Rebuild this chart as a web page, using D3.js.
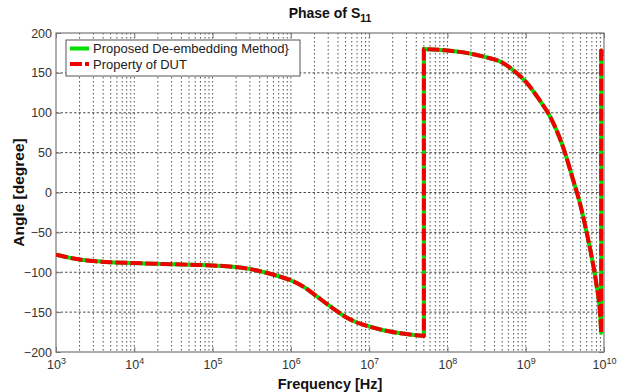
<!DOCTYPE html>
<html><head><meta charset="utf-8">
<script src="https://cdn.jsdelivr.net/npm/d3@7"></script>
<style>body{margin:0;background:#fff;}svg{display:block;font-family:"Liberation Sans",Arial,sans-serif;}</style>
</head><body><svg id="c" width="644" height="392"></svg>
<script>
// Data
const freqHz = [1e3,2e3,3e3,5e3,1e4,2e4,5e4,1e5,2e5,3e5,5e5,7e5,1e6,1.5e6,2e6,3e6,5e6,7e6,1e7,2e7,3e7,5e7,
                5e7,1e8,2e8,3e8,5e8,7e8,1e9,1.5e9,2e9,3e9,4e9,5e9,6e9,7e9,8e9,9e9,9.2e9,
                9.2e9,1e10];
const proposedPhase = [-78,-84,-86,-87.5,-88.5,-89.5,-90.5,-91.5,-93.5,-96,-101,-105,-110,-119,-128,-141,-156,-163,-168,-175,-177.5,-180,
                180,178,174,170,163,153,139,116,97,57,17,-16,-50,-82,-115,-158,-176,
                178,172];
const dutPhase = [-78,-84,-86,-87.5,-88.5,-89.5,-90.5,-91.5,-93.5,-96,-101,-105,-110,-119,-128,-141,-156,-163,-168,-175,-177.5,-180,
                180,178,174,170,163,153,139,116,97,57,17,-16,-50,-82,-115,-158,-176,
                178,172];
const yTicks = [-200,-150,-100,-50,0,50,100,150,200];
const xDecades = [3,4,5,6,7,8,9,10];
const legendLabels = ["Proposed De-embedding Method}","Property of DUT"];

const svg = d3.select("#c");
const L=56,R=604,T=33,B=352;
const x = d3.scaleLog().domain([1e3,1e10]).range([L,R]);
const y = d3.scaleLinear().domain([-200,200]).range([B,T]);

// grid
const g = svg.append("g");
const minor=[];
for(let e=3;e<10;e++){for(let k=1;k<10;k++){const v=k*Math.pow(10,e); if(v>1e3) minor.push(v);}}
g.selectAll("line.vx").data(minor).join("line")
 .attr("x1",d=>x(d)).attr("x2",d=>x(d)).attr("y1",T).attr("y2",B)
 .attr("stroke","#222").attr("stroke-width",0.8).attr("stroke-dasharray","1.5,2.5");
g.selectAll("line.hy").data(yTicks.slice(1,-1)).join("line")
 .attr("x1",L).attr("x2",R).attr("y1",d=>y(d)).attr("y2",d=>y(d))
 .attr("stroke","#222").attr("stroke-width",0.8).attr("stroke-dasharray","2.5,2");

// axes
const axL = d3.axisLeft(y).tickValues(yTicks).tickSize(-5).tickPadding(4).tickFormat(d3.format("d"));
const axR = d3.axisRight(y).tickValues(yTicks).tickSize(-5).tickFormat("");
const axB = d3.axisBottom(x).tickValues(xDecades.map(e=>Math.pow(10,e))).tickSize(-5).tickPadding(6).tickFormat("");
const axT = d3.axisTop(x).tickValues(xDecades.map(e=>Math.pow(10,e))).tickSize(-5).tickFormat("");
function style(sel){sel.select(".domain").remove();sel.selectAll(".tick line").attr("stroke","#777");sel.selectAll("text").attr("fill","#333").style("font-size","12.5px").style("font-family","'Liberation Sans',Arial,sans-serif");}
svg.append("g").attr("transform",`translate(${L},0)`).call(axL).call(style);
svg.append("g").attr("transform",`translate(${R},0)`).call(axR).call(style);
const gb=svg.append("g").attr("transform",`translate(0,${B})`).call(axB).call(style);
svg.append("g").attr("transform",`translate(0,${T})`).call(axT).call(style);
gb.selectAll(".tick").each(function(d){
  const t=d3.select(this).append("text").attr("y",17).attr("text-anchor","middle").attr("fill","#333").style("font-size","12.5px");
  t.append("tspan").text("10");
  t.append("tspan").attr("dy",-5).style("font-size","9px").text(Math.round(Math.log10(d)));
});
svg.append("rect").attr("x",L).attr("y",T).attr("width",R-L).attr("height",B-T).attr("fill","none").attr("stroke","#777").attr("stroke-width",1.2);

// smooth path with straight jumps where frequency repeats
function buildPath(vals){
  const segs=[];let cur=[];
  vals.forEach((v,i)=>{
    if(i>0 && freqHz[i]===freqHz[i-1]){segs.push(cur);cur=[];}
    cur.push([x(freqHz[i]),y(v)]);
  });
  segs.push(cur);
  const ln=d3.line().curve(d3.curveMonotoneX);
  return segs.map((s,k)=>{const p=ln(s);return k===0?p:"L"+p.slice(1);}).join("");
}
svg.append("clipPath").attr("id","cp").append("rect").attr("x",L).attr("y",T).attr("width",R-L).attr("height",B-T);
svg.append("path").attr("d",buildPath(proposedPhase)).attr("fill","none").attr("stroke","#00e000").attr("stroke-width",4).attr("stroke-linejoin","round").attr("clip-path","url(#cp)");
svg.append("path").attr("d",buildPath(dutPhase)).attr("fill","none").attr("stroke","#f00000").attr("stroke-width",4).attr("stroke-dasharray","12,3").attr("stroke-linejoin","round").attr("clip-path","url(#cp)");

// legend
const lg = svg.append("g");
lg.append("rect").attr("x",66).attr("y",40).attr("width",234).attr("height",36).attr("fill","#fff").attr("stroke","#555").attr("stroke-width",1);
lg.append("line").attr("x1",70).attr("x2",89).attr("y1",48.5).attr("y2",48.5).attr("stroke","#00e000").attr("stroke-width",4);
lg.append("line").attr("x1",70).attr("x2",89).attr("y1",64).attr("y2",64).attr("stroke","#f00000").attr("stroke-width",4).attr("stroke-dasharray","12,3");
lg.selectAll("text").data(legendLabels).join("text").attr("x",93).attr("y",(d,i)=>53+i*15.5)
 .attr("fill","#222").style("font-size","13px").text(d=>d);

// title & labels
const tt = svg.append("text").attr("x",(L+R)/2).attr("y",18).attr("text-anchor","middle").style("font-weight","bold").style("font-size","14px").attr("fill","#111");
tt.append("tspan").text("Phase of S");
tt.append("tspan").attr("dy",4).style("font-size","10.5px").text("11");
svg.append("text").attr("x",(L+R)/2).attr("y",389).attr("text-anchor","middle").style("font-weight","bold").style("font-size","14.5px").attr("fill","#111").text("Frequency [Hz]");
svg.append("text").attr("transform",`translate(24,${(T+B)/2}) rotate(-90)`).attr("text-anchor","middle").style("font-weight","bold").style("font-size","15.5px").attr("fill","#111").text("Angle [degree]");
</script></body></html>
